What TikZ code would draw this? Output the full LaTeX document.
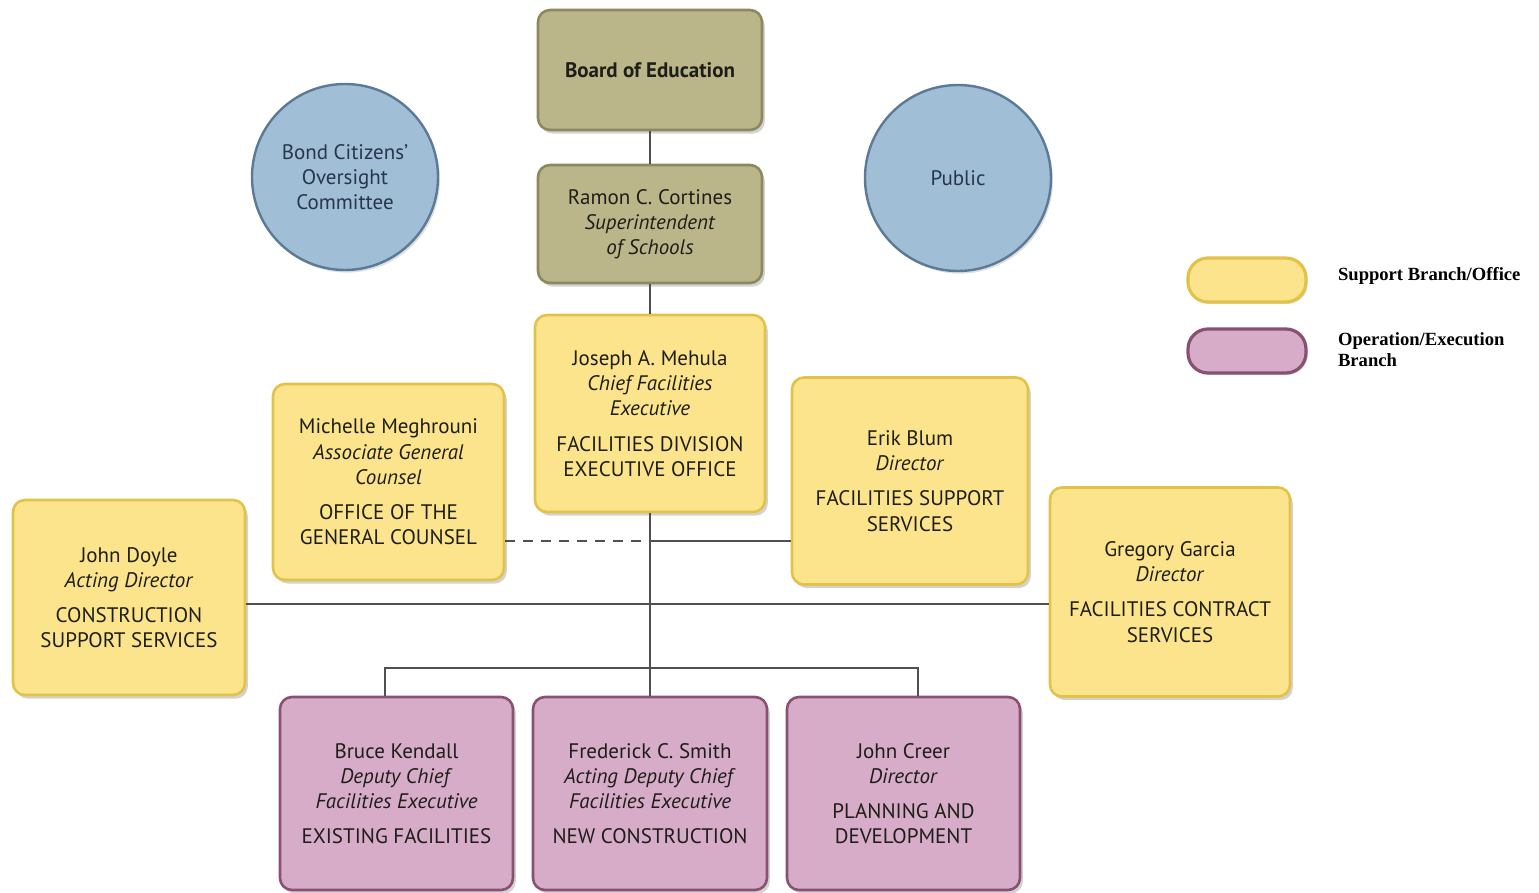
\documentclass[tikz,border=0pt]{standalone}
\usepackage{fontspec}
\setmainfont{PT Sans}
\newfontfamily\legendfont{Liberation Serif}
\usetikzlibrary{shadows}
\definecolor{olivefill}{RGB}{186,182,138}
\definecolor{olivedraw}{RGB}{140,136,96}
\definecolor{yelfill}{RGB}{252,228,140}
\definecolor{yeldraw}{RGB}{226,194,72}
\definecolor{purfill}{RGB}{214,172,200}
\definecolor{purdraw}{RGB}{138,80,114}
\definecolor{bluefill}{RGB}{160,190,214}
\definecolor{bluedraw}{RGB}{92,122,152}
\definecolor{linecol}{RGB}{80,80,80}
\definecolor{txt}{RGB}{30,30,24}
\definecolor{circtxt}{RGB}{40,54,76}
\begin{document}
\begin{tikzpicture}[x=0.5pt,y=-0.5pt,
  basebox/.style={rectangle, rounded corners=6pt, line width=1.3pt, align=center,
    text=txt, font=\fontsize{10.5}{12.6}\selectfont, inner sep=2pt,
    drop shadow={shadow xshift=1.4pt,shadow yshift=-1.8pt,opacity=0.35}},
  olivebox/.style={basebox, fill=olivefill, draw=olivedraw},
  yelbox/.style={basebox, fill=yelfill, draw=yeldraw},
  purbox/.style={basebox, fill=purfill, draw=purdraw},
  bluecirc/.style={circle, fill=bluefill, draw=bluedraw, line width=1.2pt,
    minimum size=93pt, align=center, text=circtxt, inner sep=0pt,
    font=\fontsize{10.5}{12.6}\selectfont,
    drop shadow={shadow xshift=1pt,shadow yshift=-1.3pt,opacity=0.25}},
  pill/.style={rectangle, rounded corners=10pt, line width=1.6pt,
    minimum width=59pt, minimum height=22pt,
    drop shadow={shadow xshift=0.8pt,shadow yshift=-1pt,opacity=0.25}},
  legtext/.style={anchor=west, align=left, text=black,
    font=\legendfont\bfseries\fontsize{9.3}{10.6}\selectfont},
  conn/.style={draw=linecol, line width=1pt},
  dashconn/.style={conn, dash pattern=on 5pt off 4pt}]
\useasboundingbox (0,0) rectangle (1539,893);

% circles
\node[bluecirc] (bond) at (345,177) {Bond Citizens'\\Oversight\\Committee};
\node[bluecirc] (public) at (958,178) {Public};

% top chain
\node[olivebox, minimum width=112pt, minimum height=60pt] (board) at (650,70)
  {\textbf{Board of Education}};
\node[olivebox, minimum width=112pt, minimum height=59pt] (ramon) at (650,224)
  {Ramon C. Cortines\\\textit{Superintendent}\\\textit{of Schools}};
\node[yelbox, minimum width=115pt, minimum height=98.5pt] (joseph) at (650,413.5)
  {Joseph A. Mehula\\\textit{Chief Facilities}\\\textit{Executive}\\[5pt]FACILITIES DIVISION\\EXECUTIVE OFFICE};

% side offices
\node[yelbox, minimum width=115.5pt, minimum height=98pt] (michelle) at (388.5,482)
  {Michelle Meghrouni\\\textit{Associate General}\\\textit{Counsel}\\[5pt]OFFICE OF THE\\GENERAL COUNSEL};
\node[yelbox, minimum width=118pt, minimum height=103.5pt] (erik) at (910,481)
  {Erik Blum\\\textit{Director}\\[5pt]FACILITIES SUPPORT\\SERVICES};
\node[yelbox, minimum width=116pt, minimum height=97.5pt] (doyle) at (129,597.5)
  {John Doyle\\\textit{Acting Director}\\[5pt]CONSTRUCTION\\SUPPORT SERVICES};
\node[yelbox, minimum width=120pt, minimum height=104.5pt] (gregory) at (1170,592)
  {Gregory Garcia\\\textit{Director}\\[5pt]FACILITIES CONTRACT\\SERVICES};

% operation branches
\node[purbox, minimum width=116.5pt, minimum height=96.5pt] (bruce) at (396.5,793.5)
  {Bruce Kendall\\\textit{Deputy Chief}\\\textit{Facilities Executive}\\[5pt]EXISTING FACILITIES};
\node[purbox, minimum width=117pt, minimum height=96.5pt] (fred) at (650,793.5)
  {Frederick C. Smith\\\textit{Acting Deputy Chief}\\\textit{Facilities Executive}\\[5pt]NEW CONSTRUCTION};
\node[purbox, minimum width=116.5pt, minimum height=96.5pt] (creer) at (903.5,793.5)
  {John Creer\\\textit{Director}\\[5pt]PLANNING AND\\DEVELOPMENT};

% legend
\node[pill, fill=yelfill, draw=yeldraw] (legsup) at (1247,280) {};
\node[pill, fill=purfill, draw=purdraw] (legop) at (1247,351) {};
\node[legtext] (legsuptext) at (1331,276) {Support Branch/Office};
\node[legtext] (legoptext) at (1331,350) {Operation/Execution\\Branch};

% junction coordinates
\coordinate (jc) at (650,541);
\coordinate (jd) at (650,604);
\coordinate (je) at (650,668);
\coordinate (bl) at (385,668);
\coordinate (br) at (918,668);

% connectors
\draw[conn] (board.south) -- (ramon.north);
\draw[conn] (ramon.south) -- (joseph.north);
\draw[conn] (joseph.south) -- (je);
\draw[dashconn] (michelle.east |- jc) -- (jc);
\draw[conn] (jc) -- (erik.west |- jc);
\draw[conn] (doyle.east |- jd) -- (gregory.west |- jd);
\draw[conn] (bl |- bruce.north) -- (bl) -- (br) -- (br |- creer.north);
\draw[conn] (je) -- (fred.north);
\end{tikzpicture}
\end{document}
